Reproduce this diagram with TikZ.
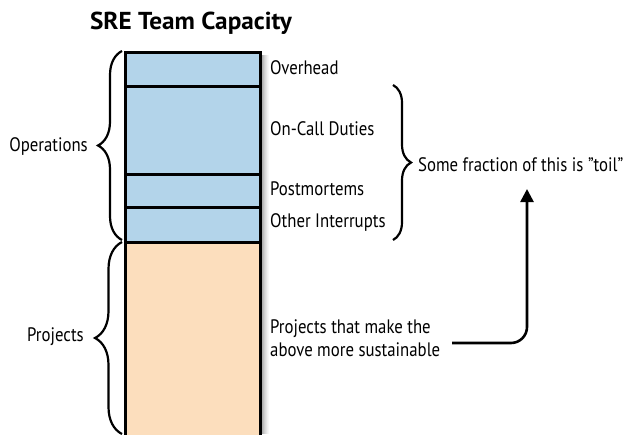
\documentclass[tikz,border=0pt]{standalone}
\usepackage{fontspec}
\setmainfont[FakeStretch=0.86]{PT Sans}
\newfontfamily\titlefont[FakeStretch=1.03]{PT Sans}
\usetikzlibrary{decorations.pathreplacing,arrows.meta}
\definecolor{opblue}{RGB}{179,212,234}
\definecolor{projpeach}{RGB}{252,222,189}
\begin{document}
\begin{tikzpicture}[x=1pt,y=-1pt,
  seg/.style={draw=black,line width=2.8pt,anchor=north west,inner sep=0pt,minimum width=135pt},
  lbl/.style={anchor=west,inner sep=0pt,font=\fontsize{19.5}{22}\selectfont},
  side/.style={anchor=east,inner sep=0pt,font=\fontsize{19.5}{22}\selectfont},
  brc/.style={decorate,line width=2.2pt,decoration={brace,amplitude=#1}},
  conn/.style={line width=2.6pt,rounded corners=16pt,-{Triangle[width=13pt,length=13pt]}}]
\useasboundingbox (0,0) rectangle (626,434);
\fill[white] (0,0) rectangle (626,434);
% shadow
\foreach \i/\o in {0/0.45,1/0.38,2/0.31,3/0.25,4/0.19,5/0.14,6/0.10,7/0.06,8/0.03}
  \fill[black,opacity=\o] (260+\i,55) rectangle (261+\i,434);
\node[font=\titlefont\bfseries\fontsize{24.5}{28}\selectfont,inner sep=0pt] (title) at (191,23) {SRE Team Capacity};
\node[seg,fill=projpeach,minimum height=210pt] (proj) at (124,241) {};
\node[seg,fill=opblue,minimum height=35pt] (oth) at (124,206) {};
\node[seg,fill=opblue,minimum height=33pt] (pm) at (124,173) {};
\node[seg,fill=opblue,minimum height=88pt] (oncall) at (124,85) {};
\node[seg,fill=opblue,minimum height=34pt] (ovh) at (124,51) {};
% labels
\node[lbl] (lovh) at (270,68) {Overhead};
\node[lbl] (loncall) at (270,129) {On-Call Duties};
\node[lbl] (lpm) at (270,189) {Postmortems};
\node[lbl] (loth) at (270,223) {Other Interrupts};
\node[lbl,align=left,font=\fontsize{19.5}{23.5}\selectfont] (lproj) at (270,338) {Projects that make the\\above more sustainable};
\node[side] (ops) at (88,147) {Operations};
\node[side] (projs) at (84,337) {Projects};
\node[lbl] (toil) at (418,165) {Some fraction of this is \symbol{34}toil\symbol{34}};
% braces
\coordinate (b1a) at (122,240);
\coordinate (b1b) at (122,51);
\draw[brc=24pt] (b1a) -- (b1b);
\coordinate (b2a) at (122,434);
\coordinate (b2b) at (122,242);
\draw[brc=27pt] (b2a) -- (b2b);
\coordinate (b3a) at (393,85);
\coordinate (b3b) at (393,240);
\draw[brc=18pt] (b3a) -- (b3b);
% arrow
\coordinate (astart) at (452,343);
\coordinate (aend) at (527,189);
\draw[conn] (astart) -- (aend |- astart) -- (aend);
\end{tikzpicture}
\end{document}
